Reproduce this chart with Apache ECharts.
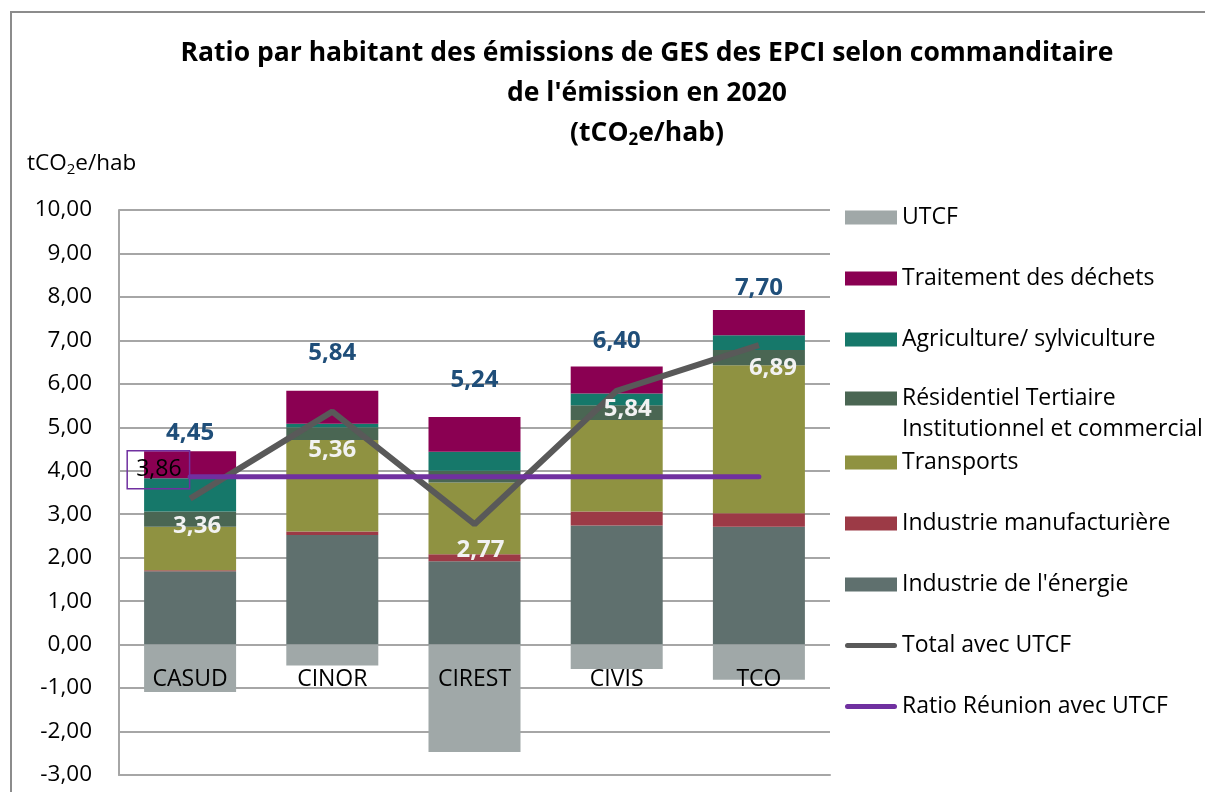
<!DOCTYPE html>
<html>
<head>
<meta charset="utf-8">
<script src="https://cdn.jsdelivr.net/npm/echarts@6/dist/echarts.min.js"></script>
<style>
  html, body { margin: 0; padding: 0; background: #fff; }
  #chart { width: 1205px; height: 792px; }
</style>
</head>
<body>
<div id="chart"></div>
<script>
// données (tCO2e/hab)
const categories = ['CASUD', 'CINOR', 'CIREST', 'CIVIS', 'TCO'];
const energie = [1.69, 2.52, 1.92, 2.74, 2.71];
const manufacturiere = [0.02, 0.08, 0.16, 0.32, 0.31];
const transports = [1.00, 2.11, 1.65, 2.11, 3.41];
const residentiel = [0.35, 0.29, 0.27, 0.34, 0.35];
const agriculture = [0.77, 0.08, 0.44, 0.27, 0.34];
const dechets = [0.62, 0.76, 0.80, 0.62, 0.58];
const utcf = [-1.09, -0.48, -2.47, -0.56, -0.81];
const totalSansUtcf = [4.45, 5.84, 5.24, 6.40, 7.70];
const totalAvecUtcf = [3.36, 5.36, 2.77, 5.84, 6.89];
const ratioReunion = [3.86, 3.86, 3.86, 3.86, 3.86];

const FONT = 'Open Sans';
const RESID = 'Résidentiel Tertiaire Institutionnel et commercial';
const fmt = v => Number(v).toFixed(2).replace('.', ',');

// décalages des étiquettes (placées à la main dans l'original)
const totalLift = [18, 38, 37, 25, 22];
const avecOffset = [[7, 28], [0, 38], [6, 26], [11, 18], [14, 23]];

// icône de légende : trait épais, la boîte 52x14 est fixée par les M isolés
const LINE_ICON = 'path://M0,0 M52,14 M2.5,4.5 L49.5,4.5 A2.5,2.5,0,0,1,49.5,9.5 L2.5,9.5 A2.5,2.5,0,0,1,2.5,4.5 Z';

function barSerie(name, data, color) {
  return {
    name: name,
    type: 'bar',
    stack: 'ges',
    barWidth: 92,
    data: data,
    itemStyle: { color: color },
    emphasis: { disabled: true }
  };
}

// série invisible qui ne sert qu'à porter des étiquettes
function labelSerie(name, data, label, z) {
  return {
    name: name,
    type: 'scatter',
    data: data,
    symbolSize: 1,
    itemStyle: { color: 'rgba(0,0,0,0)', opacity: 1 },
    label: Object.assign({
      show: true,
      position: 'inside',
      formatter: p => fmt(p.value),
      fontFamily: FONT
    }, label),
    emphasis: { disabled: true },
    silent: true,
    z: z
  };
}

const legendText = { fontFamily: FONT, fontSize: 23, color: '#000', lineHeight: 23 };

function legendBlock(top, data, extra) {
  return Object.assign({
    orient: 'vertical',
    left: 840,
    top: top,
    itemWidth: 52,
    itemHeight: 14,
    itemGap: 38,
    selectedMode: false,
    textStyle: legendText,
    data: data
  }, extra || {});
}

const chart = echarts.init(document.getElementById('chart'));

chart.setOption({
  animation: false,
  textStyle: { fontFamily: FONT },
  title: [
    {
      text: 'Ratio par habitant des émissions de GES des EPCI selon commanditaire\nde l\'émission en 2020\n(tCO{sub|2}e/hab)',
      left: 642,
      top: 28,
      textAlign: 'center',
      textStyle: {
        fontFamily: FONT,
        fontSize: 26.5,
        fontWeight: 'bold',
        color: '#000',
        lineHeight: 40,
        rich: {
          sub: { fontFamily: FONT, fontSize: 17, fontWeight: 'bold', color: '#000', padding: [14, 0, 0, 0] }
        }
      }
    },
    {
      text: 'tCO{sub|2}e/hab',
      left: 22,
      top: 146,
      textStyle: {
        fontFamily: FONT,
        fontSize: 22.5,
        fontWeight: 'normal',
        color: '#000',
        rich: {
          sub: { fontFamily: FONT, fontSize: 15, color: '#000', padding: [11, 0, 0, 0] }
        }
      }
    }
  ],
  legend: [
    legendBlock(201, [
      { name: 'UTCF', icon: 'rect' },
      { name: 'Traitement des déchets', icon: 'rect' },
      { name: 'Agriculture/ sylviculture', icon: 'rect' }
    ]),
    // libellé sur deux lignes : une ligne vide au-dessus garde la 1re ligne au niveau du carré
    legendBlock(347, [
      { name: RESID, icon: 'rect' }
    ], {
      textStyle: Object.assign({}, legendText, { lineHeight: 31 }),
      formatter: () => ' \nRésidentiel Tertiaire\nInstitutionnel et commercial'
    }),
    legendBlock(446, [
      { name: 'Transports', icon: 'rect' },
      { name: 'Industrie manufacturière', icon: 'rect' },
      { name: 'Industrie de l\'énergie', icon: 'rect' },
      { name: 'Total avec UTCF', icon: LINE_ICON },
      { name: 'Ratio Réunion avec UTCF', icon: LINE_ICON }
    ])
  ],
  grid: { left: 119, right: 375, top: 210, bottom: 17, outerBoundsMode: 'none' },
  xAxis: {
    type: 'category',
    data: categories,
    axisLine: { show: true, onZero: false, lineStyle: { color: '#a6a6a6', width: 2 } },
    axisTick: { show: false },
    axisLabel: { fontFamily: FONT, fontSize: 23, color: '#000', inside: true, margin: 84 },
    z: 10
  },
  yAxis: {
    type: 'value',
    min: -3,
    max: 10,
    interval: 1,
    axisLine: { show: true, lineStyle: { color: '#a6a6a6', width: 2 } },
    axisTick: { show: false },
    splitLine: { lineStyle: { color: '#a6a6a6', width: 2 } },
    axisLabel: { fontFamily: FONT, fontSize: 22.5, color: '#000', margin: 27, formatter: fmt }
  },
  series: [
    barSerie('Industrie de l\'énergie', energie, '#5f706e'),
    barSerie('Industrie manufacturière', manufacturiere, '#9c3a46'),
    barSerie('Transports', transports, '#8f9241'),
    barSerie(RESID, residentiel, '#4a6653'),
    barSerie('Agriculture/ sylviculture', agriculture, '#16786a'),
    barSerie('Traitement des déchets', dechets, '#8a0052'),
    barSerie('UTCF', utcf, '#a0a8a8'),
    {
      name: 'Total avec UTCF',
      type: 'line',
      data: totalAvecUtcf,
      symbol: 'none',
      lineStyle: { color: '#595959', width: 6 },
      itemStyle: { color: '#595959' },
      emphasis: { disabled: true },
      z: 5
    },
    {
      name: 'Ratio Réunion avec UTCF',
      type: 'line',
      data: ratioReunion,
      symbol: 'none',
      lineStyle: { color: '#7030a0', width: 5, cap: 'round' },
      itemStyle: { color: '#7030a0' },
      emphasis: { disabled: true },
      z: 6
    },
    labelSerie('etiquettes total avec UTCF',
      totalAvecUtcf.map((v, i) => ({ value: v, label: { offset: avecOffset[i] } })),
      { fontSize: 24, fontWeight: 'bold', color: '#f2f2f2' }, 7),
    labelSerie('etiquette ratio',
      ratioReunion.map((v, i) => ({ value: v, label: { show: i === 0 } })),
      {
        position: 'left',
        distance: 0,
        offset: [0, -7],
        fontSize: 23,
        color: '#000',
        borderColor: '#7030a0',
        borderWidth: 1.5,
        padding: [8, 8, 7, 9]
      }, 7),
    labelSerie('totaux',
      totalSansUtcf.map((v, i) => ({ value: v, label: { offset: [0, -totalLift[i]] } })),
      { fontSize: 24, fontWeight: 'bold', color: '#1f4e79' }, 7)
  ],
  graphic: [
    {
      type: 'rect',
      shape: { x: 11, y: 12, width: 1300, height: 900 },
      style: { fill: 'none', stroke: '#8c8c8c', lineWidth: 2 },
      silent: true,
      z: -10
    }
  ]
});
</script>
</body>
</html>
